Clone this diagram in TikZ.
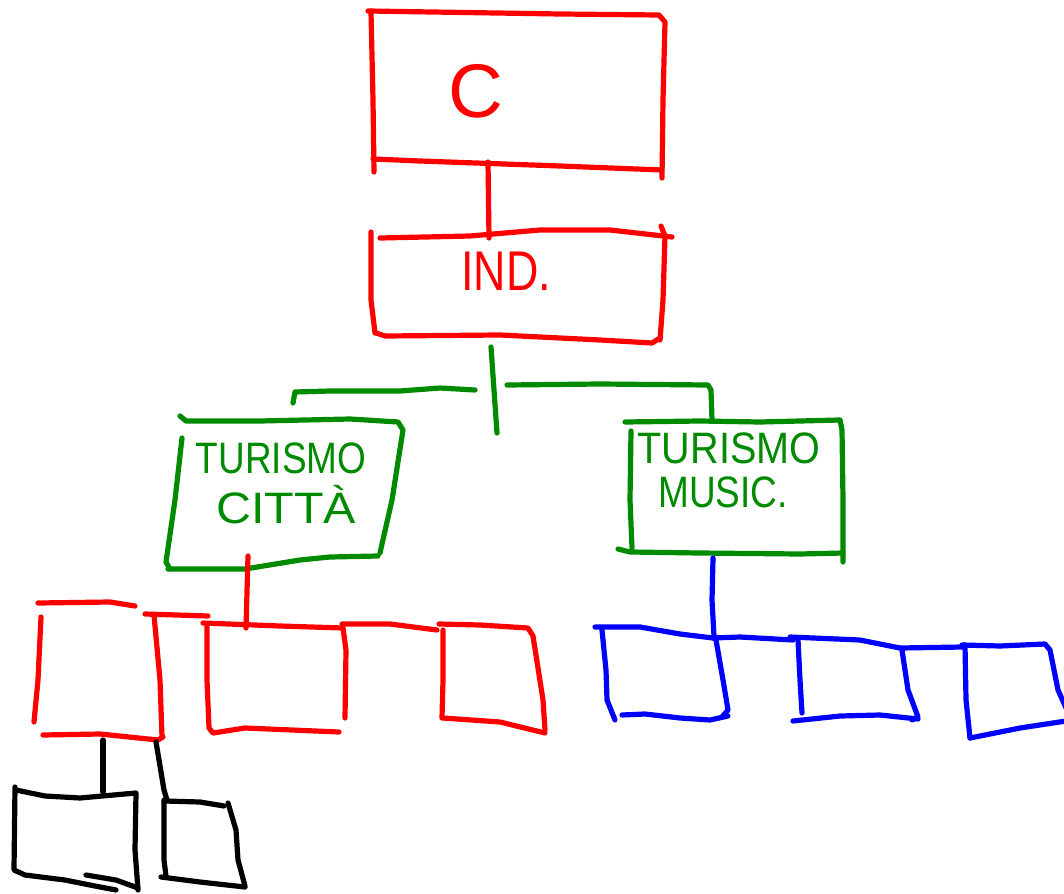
\documentclass[tikz,border=0pt]{standalone}
\usepackage{fontspec}
\setmainfont{Liberation Sans}
\definecolor{penred}{RGB}{255,0,0}
\definecolor{pengreen}{RGB}{0,138,0}
\definecolor{penblue}{RGB}{0,0,255}
\definecolor{penblack}{RGB}{0,0,0}
\begin{document}
\begin{tikzpicture}[x=1pt,y=-1pt,
  pen/.style={line width=5.2pt,line cap=round,line join=round},
  rpen/.style={pen,draw=penred},
  gpen/.style={pen,draw=pengreen},
  bpen/.style={pen,draw=penblue},
  kpen/.style={pen,draw=penblack},
  lbl/.style={anchor=base,inner sep=0pt},
  big/.style={lbl,font=\fontsize{76}{76}\selectfont},
  mid/.style={lbl,font=\fontsize{56}{56}\selectfont},
  small/.style={lbl,font=\fontsize{44}{44}\selectfont}]
\useasboundingbox (0,0) rectangle (1064,893);

% ---------- top box C ----------
\draw[rpen] (371,12) -- (373,100) -- (374,172);
\draw[rpen] (368,11) -- (560,14) -- (659,15) -- (665,22) -- (663,100) -- (662,178);
\draw[rpen] (373,159) -- (420,161) -- (560,166) -- (662,170);
\node[big,text=penred] (tC) at (476,118) {C};

% ---------- IND box ----------
\draw[rpen] (371,232) -- (371,300) -- (375,333);
\draw[rpen] (380,238) -- (470,236) -- (540,230) -- (610,230) -- (672,237);
\draw[rpen] (661,226) -- (665,236) -- (663,300) -- (660,340);
\draw[rpen] (376,333) -- (385,336) -- (500,335) -- (600,340) -- (652,343) -- (660,338);
\node[mid,text=penred] (tInd) at (506,290) {\scalebox{0.8}[1]{IND.}};

% connector C -> IND
\coordinate (cCbot) at (488,162);
\coordinate (cIndTop) at (489,238);
\draw[rpen] (cCbot) -- (cIndTop);

% ---------- green connectors ----------
\coordinate (gTop) at (491,347);
\coordinate (gBot) at (497,433);
\draw[gpen] (gTop) -- (494,390) -- (gBot);
\coordinate (gL0) at (475,390);
\coordinate (gL1) at (293,403);
\draw[gpen] (gL0) -- (440,388) -- (400,391) -- (330,391) -- (295,392) -- (gL1);
\coordinate (gR0) at (507,385);
\coordinate (gR1) at (712,420);
\draw[gpen] (gR0) -- (600,384) -- (708,385) -- (711,390) -- (gR1);

% ---------- TURISMO CITTA box ----------
\draw[gpen] (180,416) -- (186,421) -- (260,421) -- (350,419) -- (398,422) -- (403,430) -- (392,500) -- (380,553);
\draw[gpen] (182,438) -- (175,500) -- (166,562) -- (170,569);
\draw[gpen] (168,569) -- (245,569) -- (300,560) -- (330,557) -- (378,556);
\node[small,text=pengreen] (tTur1) at (281,473) {\scalebox{0.84}[1]{TURISMO}};
\node[small,text=pengreen] (tCitta) at (286,523) {\scalebox{1.1}[1]{CITTÀ}};

% ---------- TURISMO MUSIC box ----------
\draw[gpen] (625,422) -- (700,421) -- (760,422) -- (840,420) -- (842,430) -- (843,500) -- (843,562);
\draw[gpen] (631,431) -- (630,500) -- (632,548);
\draw[gpen] (618,549) -- (630,552) -- (700,553) -- (800,554) -- (843,553);
\node[small,text=pengreen] (tTur2) at (729,463) {\scalebox{0.9}[1]{TURISMO}};
\node[small,text=pengreen] (tMusic) at (723,507) {\scalebox{0.84}[1]{MUSIC.}};

% ---------- red row ----------
\coordinate (rTop) at (248,556);
\coordinate (rBot) at (246,628);
\draw[rpen] (rTop) -- (rBot);
% R1
\draw[rpen] (38,603) -- (110,602) -- (135,606);
\draw[rpen] (41,617) -- (38,680) -- (34,722);
\draw[rpen] (43,735) -- (100,734) -- (158,740) -- (163,737);
\draw[rpen] (154,615) -- (160,680) -- (162,737);
\coordinate (r12a) at (145,614);
\coordinate (r12b) at (208,616);
\draw[rpen] (r12a) -- (r12b);
% R2
\draw[rpen] (203,623) -- (280,626) -- (343,628) -- (346,650) -- (345,718);
\draw[rpen] (207,625) -- (207,680) -- (209,728) -- (213,733) -- (245,728) -- (339,732);
\coordinate (r23a) at (342,624);
\coordinate (r23b) at (437,630);
\draw[rpen] (r23a) -- (390,624) -- (r23b);
% R3
\draw[rpen] (439,624) -- (480,625) -- (528,628) -- (533,636) -- (543,700) -- (545,730);
\draw[rpen] (443,718) -- (500,722) -- (545,733);
\draw[rpen] (443,630) -- (443,680) -- (442,718);

% ---------- black boxes ----------
\coordinate (k1a) at (103,740);
\coordinate (k1b) at (103,792);
\draw[kpen] (k1a) -- (k1b);
\coordinate (k2a) at (156,742);
\coordinate (k2b) at (167,800);
\draw[kpen] (k2a) -- (164,790) -- (k2b);
% B1
\draw[kpen] (16,790) -- (45,796) -- (80,798) -- (136,793) -- (135,850) -- (138,890);
\draw[kpen] (15,787) -- (14,870) -- (25,875) -- (65,880) -- (95,886) -- (116,890);
\draw[kpen] (86,875) -- (116,880) -- (138,888);
% B2
\draw[kpen] (165,801) -- (200,802) -- (224,806);
\draw[kpen] (164,800) -- (164,860) -- (166,876);
\draw[kpen] (228,803) -- (236,830) -- (238,860) -- (245,886);
\draw[kpen] (161,877) -- (200,882) -- (245,887);

% ---------- blue row ----------
\coordinate (bTop) at (713,558);
\coordinate (bBot) at (714,636);
\draw[bpen] (bTop) -- (712,600) -- (bBot);
% U1
\draw[bpen] (595,627) -- (640,627) -- (680,634) -- (713,638);
\coordinate (u12a) at (713,638);
\coordinate (u12b) at (793,640);
\draw[bpen] (u12a) -- (740,637) -- (u12b);
\draw[bpen] (602,630) -- (606,670) -- (607,700) -- (615,720);
\draw[bpen] (716,640) -- (723,680) -- (728,710) -- (722,717);
\draw[bpen] (622,715) -- (645,714) -- (680,718) -- (710,720) -- (728,716);
% U2
\draw[bpen] (790,637) -- (860,640) -- (900,648);
\coordinate (u23a) at (900,648);
\coordinate (u23b) at (963,647);
\draw[bpen] (u23a) -- (u23b);
\draw[bpen] (798,640) -- (800,680) -- (802,713);
\draw[bpen] (902,650) -- (908,690) -- (918,717) -- (912,720);
\draw[bpen] (793,721) -- (840,716) -- (880,715) -- (918,719);
% U3
\draw[bpen] (962,645) -- (1000,646) -- (1045,644) -- (1050,650) -- (1058,690) -- (1066,708);
\draw[bpen] (965,645) -- (966,700) -- (970,738);
\draw[bpen] (970,738) -- (1020,728) -- (1066,721);
\end{tikzpicture}
\end{document}
